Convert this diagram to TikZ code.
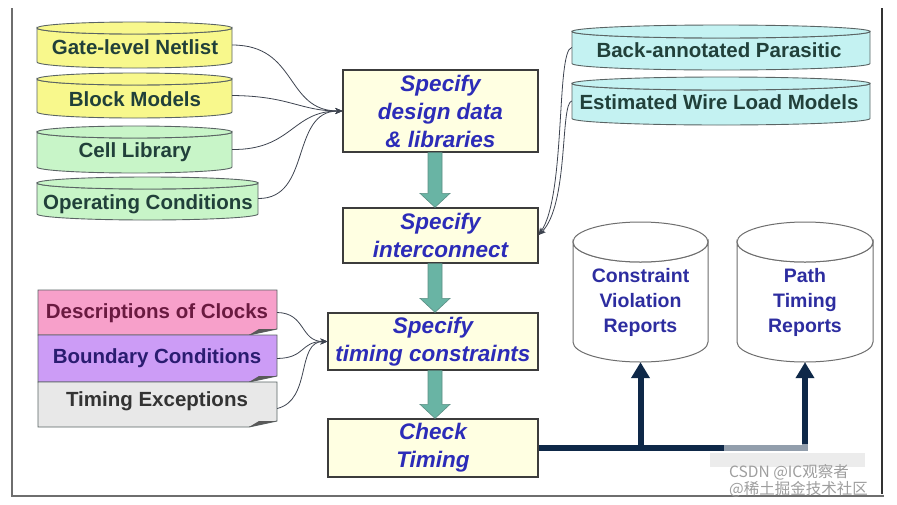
\documentclass[tikz,border=0pt]{standalone}
\usepackage{fontspec}
\setmainfont{Liberation Sans}
\newfontfamily\cjkfont{Noto Sans CJK SC}
\usetikzlibrary{arrows.meta,calc}
\definecolor{cylyellow}{HTML}{F8F88C}
\definecolor{cylgreen}{HTML}{C8F5C8}
\definecolor{cylcyan}{HTML}{C4F2F2}
\definecolor{cylline}{HTML}{5A6464}
\definecolor{cyltxt}{HTML}{21403A}
\definecolor{procfill}{HTML}{FFFFE2}
\definecolor{procline}{HTML}{3C3C3C}
\definecolor{procblue}{HTML}{2C2CB8}
\definecolor{repblue}{HTML}{2D2DA0}
\definecolor{repline}{HTML}{6E6E6E}
\definecolor{tealfill}{HTML}{69B4A4}
\definecolor{tealline}{HTML}{5B8E84}
\definecolor{navy}{HTML}{0E2848}
\definecolor{pinkfill}{HTML}{F7A0CA}
\definecolor{purplefill}{HTML}{CC9CF6}
\definecolor{grayfill}{HTML}{E8E8E8}
\definecolor{pinktxt}{HTML}{6A1A40}
\definecolor{purpletxt}{HTML}{2A1C70}
\definecolor{graytxt}{HTML}{333333}
\definecolor{wire}{HTML}{3E4450}
\definecolor{framegray}{HTML}{6E6E6E}

\newcommand\mycyl[7]{%
  \pgfmathsetmacro\cx{(#2+#3)/2}%
  \pgfmathsetmacro\rx{(#3-#2)/2}%
  \pgfmathsetmacro\ytc{#4+#6}%
  \pgfmathsetmacro\ybc{#5-#6}%
  \pgfmathsetmacro\cw{#3-#2}%
  \pgfmathsetmacro\ch{#5-#4}%
  \pgfmathsetmacro\cyy{(#4+#5)/2}%
  \path[#7] (#2,\ytc) -- (#2,\ybc) arc[start angle=180,end angle=0,x radius=\rx,y radius=#6] -- (#3,\ytc) arc[start angle=0,end angle=180,x radius=\rx,y radius=#6] -- cycle;
  \path[#7] (\cx,\ytc) ellipse[x radius=\rx, y radius=#6];
  \node[inner sep=0pt,minimum width=\cw pt,minimum height=\ch pt] (#1) at (\cx,\cyy) {};
}
\newcommand\mynote[4]{%
  \pgfmathsetmacro\nb{#3-6}%
  \pgfmathsetmacro\ncy{(#2+#3)/2}%
  \pgfmathsetmacro\nh{#3-#2}%
  \path[draw=cylline,line width=0.9pt,fill=#4] (38,#2) -- (277,#2) -- (277,\nb) -- (249,#3) -- (38,#3) -- cycle;
  \fill[black!65] (249,#3) -- (259,\nb) -- (277,\nb) -- cycle;
  \node[inner sep=0pt,minimum width=239pt,minimum height=\nh pt] (#1) at (157.5,\ncy) {};
}
\newcommand\tealarrow[2]{%
  \path[draw=tealline,line width=0.6pt,fill=tealfill] let \p1=(#1), \p2=(#2) in
    (\x1-7pt,\y1) -- (\x1-7pt,\y2+14pt) -- (\x1-15pt,\y2+14pt) -- (\x1,\y2) --
    (\x1+15pt,\y2+14pt) -- (\x1+7pt,\y2+14pt) -- (\x1+7pt,\y1) -- cycle;
}

\begin{document}
\begin{tikzpicture}[x=1pt,y=-1pt,
  cylY/.style={draw=cylline,line width=0.9pt,fill=cylyellow},
  cylG/.style={draw=cylline,line width=0.9pt,fill=cylgreen},
  cylC/.style={draw=cylline,line width=0.9pt,fill=cylcyan},
  cylW/.style={draw=repline,line width=1pt,fill=white},
  cyltext/.style={font=\fontsize{20.5}{24}\selectfont\bfseries,text=cyltxt,inner sep=1pt},
  notetext/.style={font=\fontsize{20.5}{24}\selectfont\bfseries,inner sep=1pt},
  proc/.style={draw=procline,line width=1.3pt,fill=procfill,inner sep=0pt,
    font=\fontsize{22.5}{28}\selectfont\bfseries\itshape,text=procblue,align=center},
  reptext/.style={font=\fontsize{19.5}{25}\selectfont\bfseries,text=repblue,align=center},
  wirearr/.style={draw=wire,line width=0.8pt,-{Stealth[length=7pt,width=6pt]}},
  navyline/.style={draw=navy,line width=6pt},
  navyarr/.style={draw=navy,line width=6pt,-{Triangle[width=18pt,length=16pt]}},
  wm/.style={font=\cjkfont\fontsize{15.5}{16}\selectfont,text=black!38,inner sep=0pt}
]
\useasboundingbox (0,0) rectangle (897,504);
\fill[white] (0,0) rectangle (897,504);

% frame
\draw[framegray,line width=2.5pt] (12,8) -- (12,496) -- (884,496);
\draw[black!80,line width=2.5pt] (882,8) -- (882,494);

% left data cylinders
\mycyl{gate}{37}{232}{22}{68}{6}{cylY}
\node[cyltext] (gatet) at (135,47) {Gate-level Netlist};
\mycyl{block}{37}{232}{73}{118}{6}{cylY}
\node[cyltext] (blockt) at (135,99) {Block Models};
\mycyl{cell}{37}{232}{126}{173}{6}{cylG}
\node[cyltext] (cellt) at (135,152) {Cell Library};
\mycyl{oper}{37}{258}{177}{220}{6}{cylG}
\node[cyltext] (opert) at (148,204) {Operating Conditions};

% right data cylinders
\mycyl{back}{572}{870}{25}{70}{6.5}{cylC}
\node[cyltext] (backt) at (719,50) {Back-annotated Parasitic};
\mycyl{est}{572}{870}{77}{125}{6.5}{cylC}
\node[cyltext] (estt) at (719,102) {Estimated Wire Load Models};

% report cylinders
\mycyl{cvr}{573}{708}{222}{362}{20}{cylW}
\node[reptext] (cvrt) at (640.5,302) {Constraint\\Violation\\Reports};
\mycyl{ptr}{737}{873}{222}{362}{20}{cylW}
\node[reptext] (ptrt) at (805,302) {Path\\Timing\\Reports};

% constraint notes
\mynote{clk}{290}{335}{pinkfill}
\node[notetext,text=pinktxt] (clkt) at (157,313) {Descriptions of Clocks};
\mynote{bnd}{335}{382}{purplefill}
\node[notetext,text=purpletxt] (bndt) at (157,358) {Boundary Conditions};
\mynote{exc}{382}{427}{grayfill}
\node[notetext,text=graytxt] (exct) at (157,401) {Timing Exceptions};

% process boxes
\node[proc,minimum width=195pt,minimum height=82pt] (b1) at (440.5,111) {Specify\\design data\\\& libraries};
\node[proc,minimum width=195pt,minimum height=55pt] (b2) at (440.5,235.5) {Specify\\interconnect};
\node[proc,minimum width=210pt,minimum height=57pt] (b3) at (433,341.5) {Specify\\timing constraints};
\node[proc,minimum width=210pt,minimum height=58pt] (b4) at (433,448) {Check\\Timing};

% teal flow arrows
\coordinate (ax) at (435,0);
\tealarrow{b1.south -| ax}{b2.north -| ax}
\tealarrow{b2.south -| ax}{b3.north -| ax}
\tealarrow{b3.south -| ax}{b4.north -| ax}

% wires into box 1
\draw[wirearr] (gate.east) .. controls (298,45) and (285,111) .. (b1.west);
\draw[wirearr] (block.east) .. controls (290,96) and (300,111) .. (b1.west);
\draw[wirearr] (cell.east) .. controls (292,150) and (292,111) .. (b1.west);
\draw[wirearr] (oper.east) .. controls (312,199) and (290,111) .. (b1.west);

% wires into box 2
\draw[wirearr] (back.west) .. controls (556,50) and (566,195) .. ([yshift=0.5pt]b2.east);
\draw[wirearr] (est.west) .. controls (560,103) and (569,205) .. ([yshift=0.5pt]b2.east);

% wires into box 3
\draw[wirearr] (clk.east) .. controls (306,313) and (300,341.5) .. (b3.west);
\draw[wirearr] (bnd.east) .. controls (306,358) and (300,341.5) .. (b3.west);
\draw[wirearr] ([yshift=-4pt]exc.east) .. controls (312,400) and (296,341.5) .. (b3.west);

% result arrows
\draw[navyline] (b4.east) -- ([xshift=3pt]b4.east -| ptr.south);
\draw[navyarr] (b4.east -| cvr.south) -- (cvr.south);
\draw[navyarr] (b4.east -| ptr.south) -- (ptr.south);

% watermark
\fill[white,opacity=0.55] (724,444) rectangle (816,452);
\fill[black!12,opacity=0.6] (710,453) rectangle (865,467);
\node[wm,anchor=west] (wm1) at (729,472) {CSDN @IC观察者};
\node[wm,anchor=west] (wm2) at (729,489) {@稀土掘金技术社区};
\end{tikzpicture}
\end{document}
